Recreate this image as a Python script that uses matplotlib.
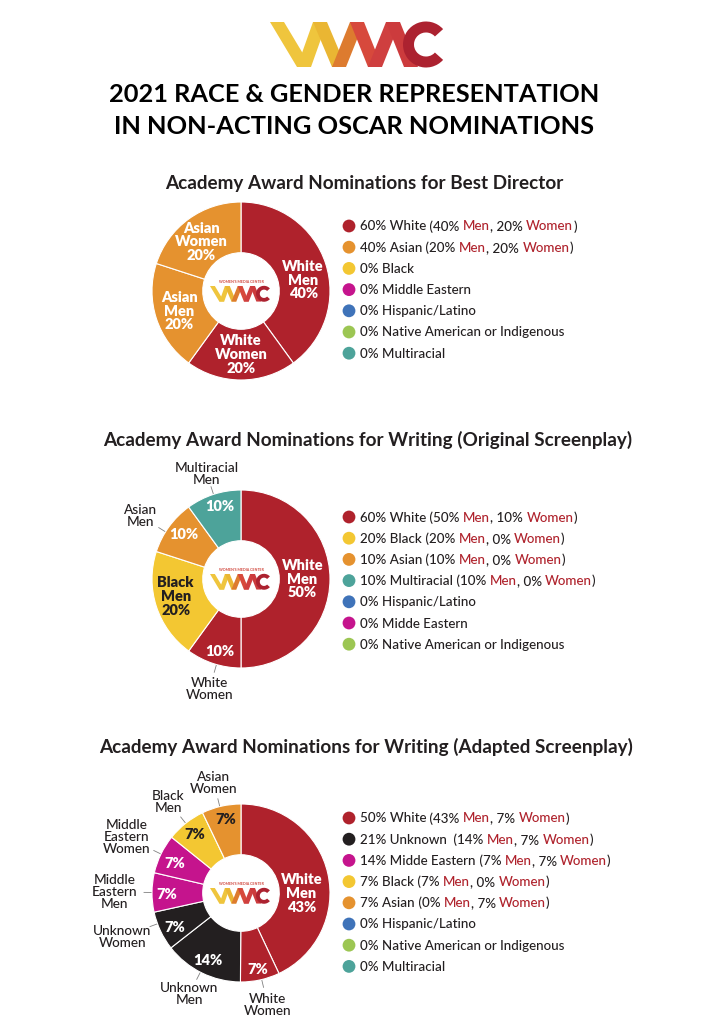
import matplotlib
matplotlib.use('Agg')
import matplotlib.pyplot as plt
from matplotlib.patches import Polygon, Wedge
import numpy as np

plt.rcParams['font.family'] = ['Lato', 'DejaVu Sans']

# colours
RED = '#AF222C'
ORANGE = '#E5922F'
YELLOW = '#F3C732'
MAGENTA = '#C5148D'
BLUE = '#3F73B9'
LIME = '#9CC653'
TEAL = '#4DA39A'
BLACK = '#231F20'
INK = '#231F20'

# ---- best director ----
dir_slices = ['White\nMen', 'White\nWomen', 'Asian\nMen', 'Asian\nWomen']
dir_values = [40, 20, 20, 20]
dir_pcts = ['40%', '20%', '20%', '20%']
dir_colors = [RED, RED, ORANGE, ORANGE]

dir_leg_pct = ['60%', '40%', '0%', '0%', '0%', '0%', '0%']
dir_leg_group = ['White', 'Asian', 'Black', 'Middle Eastern', 'Hispanic/Latino',
                 'Native American or Indigenous', 'Multiracial']
dir_leg_men = ['40%', '20%', None, None, None, None, None]
dir_leg_women = ['20%', '20%', None, None, None, None, None]
dir_leg_colors = [RED, ORANGE, YELLOW, MAGENTA, BLUE, LIME, TEAL]

# ---- original screenplay ----
orig_slices = ['White\nMen', 'White\nWomen', 'Black\nMen', 'Asian\nMen', 'Multiracial\nMen']
orig_values = [50, 10, 20, 10, 10]
orig_pcts = ['50%', '10%', '20%', '10%', '10%']
orig_colors = [RED, RED, YELLOW, ORANGE, TEAL]

orig_leg_pct = ['60%', '20%', '10%', '10%', '0%', '0%', '0%']
orig_leg_group = ['White', 'Black', 'Asian', 'Multiracial', 'Hispanic/Latino',
                  'Midde Eastern', 'Native American or Indigenous']
orig_leg_men = ['50%', '20%', '10%', '10%', None, None, None]
orig_leg_women = ['10%', '0%', '0%', '0%', None, None, None]
orig_leg_colors = [RED, YELLOW, ORANGE, TEAL, BLUE, MAGENTA, LIME]

# ---- adapted screenplay ----
adap_slices = ['White\nMen', 'White\nWomen', 'Unknown\nMen', 'Unknown\nWomen',
               'Middle\nEastern\nMen', 'Middle\nEastern\nWomen', 'Black\nMen', 'Asian\nWomen']
adap_values = [42.9, 7.1, 14.3, 7.1, 7.1, 7.1, 7.1, 7.1]
adap_pcts = ['43%', '7%', '14%', '7%', '7%', '7%', '7%', '7%']
adap_colors = [RED, RED, BLACK, BLACK, MAGENTA, MAGENTA, YELLOW, ORANGE]

adap_leg_pct = ['50%', '21%', '14%', '7%', '7%', '0%', '0%', '0%']
adap_leg_group = ['White', 'Unknown ', 'Midde Eastern', 'Black', 'Asian', 'Hispanic/Latino',
                  'Native American or Indigenous', 'Multiracial']
adap_leg_men = ['43%', '14%', '7%', '7%', '0%', None, None, None]
adap_leg_women = ['7%', '7%', '7%', '0%', '7%', None, None, None]
adap_leg_colors = [RED, BLACK, MAGENTA, YELLOW, ORANGE, BLUE, LIME, TEAL]

# label layout: (mode, inner_r, inner_dang, outer_r, outer_dang, inner text colour)
dir_layout = [('full', 0.71, -8, 0, 0, 'white'), ('full', 0.71, 0, 0, 0, 'white'),
              ('full', 0.73, 0, 0, 0, 'white'), ('full', 0.71, 3, 0, 0, 'white')]
orig_layout = [('full', 0.69, 0, 0, 0, 'white'), ('split', 0.85, 2, 1.29, 2, 'white'),
               ('full', 0.76, -3, 0, 0, INK), ('split', 0.82, -2, 1.33, 4, 'white'),
               ('split', 0.85, -2, 1.24, 0, 'white')]
adap_layout = [('full', 0.68, -13, 0, 0, 'white'), ('split', 0.875, 0, 1.29, 1, 'white'),
               ('split', 0.85, 0, 1.27, -1, 'white'), ('split', 0.84, 2, 1.42, -5, 'white'),
               ('split', 0.83, 1.5, 1.42, 0, 'white'), ('split', 0.82, 2, 1.43, 0, 'white'),
               ('split', 0.84, 0, 1.31, 0, INK), ('split', 0.84, -1, 1.27, 1, INK)]

W, H = 721, 1024
R = 89
fig = plt.figure(figsize=(W / 100, H / 100), dpi=100)
fig.patch.set_facecolor('white')

ov = fig.add_axes([0, 0, 1, 1])
ov.set_xlim(0, W)
ov.set_ylim(H, 0)
ov.axis('off')
ov.set_zorder(10)
renderer = fig.canvas.get_renderer()


def text_width(s, **kw):
    t = ov.text(0, 0, s + '|', **kw)
    w1 = t.get_window_extent(renderer).width
    t.set_text('|')
    w2 = t.get_window_extent(renderer).width
    t.remove()
    return w1 - w2


def draw_logo(x0, y0, sc):
    # stylised WMC mark, strokes as parallelograms
    h = 45 * sc
    w = 14 * sc
    strokes = [(270, 297, '#EFC53D'), (313, 297, '#EFC53D'), (313, 332, '#EAB633'),
               (350, 332, '#DD7B2F'), (350, 368, '#D7493C'), (386, 368, '#CF3F3F'),
               (386, 404, '#CC3B3D')]
    for xt, xb, col in strokes:
        xt = x0 + (xt - 270) * sc
        xb = x0 + (xb - 270) * sc
        ov.add_patch(Polygon([(xt, y0), (xt + w, y0), (xb + w, y0 + h), (xb, y0 + h)],
                             closed=True, facecolor=col, edgecolor='none'))
    ov.add_patch(Wedge((x0 + (426 - 270) * sc, y0 + h / 2), 23 * sc, 42, 318,
                       width=11 * sc, facecolor='#AC2230', edgecolor='none'))


def donut(cx, cy, values, colors, names, pcts, layout):
    ax = fig.add_axes([(cx - R) / W, 1 - (cy + R) / H, 2 * R / W, 2 * R / H])
    wedges, _ = ax.pie(values, colors=colors, startangle=90, counterclock=False,
                       wedgeprops=dict(width=0.57, edgecolor='white', linewidth=0.8))
    ax.set_xlim(-1, 1)
    ax.set_ylim(-1, 1)
    ax.axis('off')
    for wd, name, pct, lay in zip(wedges, names, pcts, layout):
        mode, ri, dai, ro, dao, tc = lay
        mid = (wd.theta1 + wd.theta2) / 2
        a = np.radians(mid + dai)
        if mode == 'full':
            ax.text(ri * np.cos(a), ri * np.sin(a), name + '\n' + pct, ha='center', va='center',
                    color=tc, fontsize=10.5, fontweight='heavy', linespacing=1.08)
        else:
            ax.text(ri * np.cos(a), ri * np.sin(a), pct, ha='center', va='center',
                    color=tc, fontsize=10.5, fontweight='heavy')
            b = np.radians(mid + dao)
            ax.text(ro * np.cos(b), ro * np.sin(b), name, ha='center', va='center',
                    color=INK, fontsize=9.8, fontweight='medium', linespacing=1.0)
            ax.plot([1.01 * np.cos(b), 1.09 * np.cos(b)], [1.01 * np.sin(b), 1.09 * np.sin(b)],
                    color='#808080', lw=0.6, clip_on=False)
    # centre mark
    ov.text(cx, cy - 9, "WOMEN'S MEDIA CENTER", ha='center', va='center', fontsize=2.6,
            fontweight='bold', color='#D0453B')
    draw_logo(cx - 31, cy - 5, 0.346)


def legend(y0, pcts, groups, men, women, colors):
    fs = 9.6
    for i in range(len(pcts)):
        y = y0 + i * 21.2
        ov.scatter([349], [y], s=85, color=colors[i], edgecolors='none')
        parts = [(pcts[i] + ' ' + groups[i], INK)]
        if men[i] is not None:
            parts += [(' (' + men[i] + ' ', INK), ('Men', RED), (', ' + women[i] + ' ', INK),
                      ('Women', RED), (')', INK)]
        x = 360
        for s, c in parts:
            ov.text(x, y + 4.5, s, color=c, fontsize=fs, fontweight='medium',
                    va='baseline', ha='left')
            x += text_width(s, fontsize=fs, fontweight='medium')


# header
draw_logo(270, 22, 1.0)
ov.text(354, 95, '2021 RACE & GENDER REPRESENTATION', ha='center', va='center',
        fontsize=18.3, fontweight='bold', color='black')
ov.text(354, 126, 'IN NON-ACTING OSCAR NOMINATIONS', ha='center', va='center',
        fontsize=18.3, fontweight='bold', color='black')

ov.text(364, 183, 'Academy Award Nominations for Best Director', ha='center', va='center',
        fontsize=13.6, fontweight='bold', color=INK)
ov.text(368, 440, 'Academy Award Nominations for Writing (Original Screenplay)', ha='center',
        va='center', fontsize=13.6, fontweight='bold', color=INK)
ov.text(366, 747, 'Academy Award Nominations for Writing (Adapted Screenplay)', ha='center',
        va='center', fontsize=13.6, fontweight='bold', color=INK)

donut(241, 291, dir_values, dir_colors, dir_slices, dir_pcts, dir_layout)
donut(241, 579, orig_values, orig_colors, orig_slices, orig_pcts, orig_layout)
donut(241, 893, adap_values, adap_colors, adap_slices, adap_pcts, adap_layout)

legend(226, dir_leg_pct, dir_leg_group, dir_leg_men, dir_leg_women, dir_leg_colors)
legend(517, orig_leg_pct, orig_leg_group, orig_leg_men, orig_leg_women, orig_leg_colors)
legend(818, adap_leg_pct, adap_leg_group, adap_leg_men, adap_leg_women, adap_leg_colors)

fig.savefig('out.png', dpi=100, facecolor='white')
